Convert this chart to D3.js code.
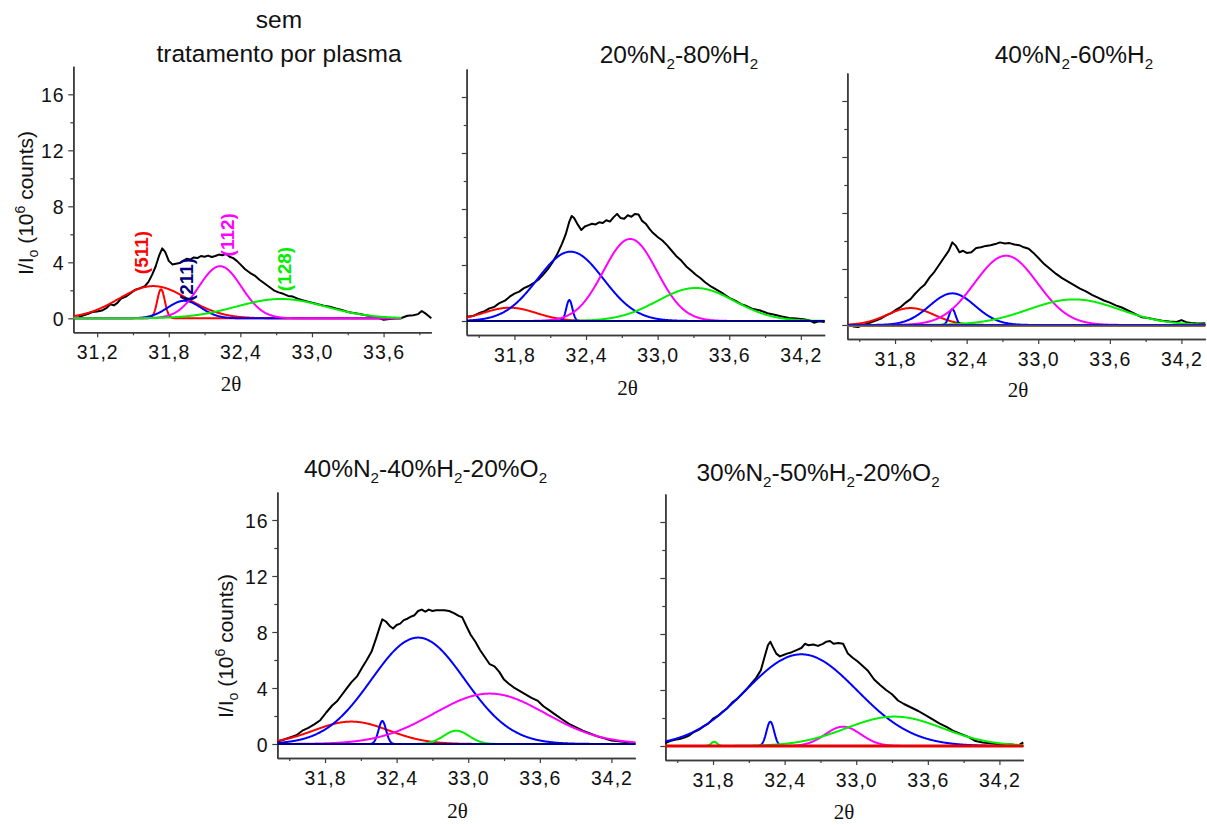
<!DOCTYPE html>
<html>
<head>
<meta charset="utf-8">
<script src="https://cdn.jsdelivr.net/npm/d3@7"></script>
<style>
  body { margin: 0; background: #fff; }
  svg { display: block; }
</style>
</head>
<body>
<svg id="chart" width="1207" height="825"></svg>
<script>
// ---------- Panel titles ("_2" marks a subscript digit) ----------
const titles = [
  ["sem", "tratamento por plasma"],
  ["20%N_2-80%H_2"],
  ["40%N_2-60%H_2"],
  ["40%N_2-40%H_2-20%O_2"],
  ["30%N_2-50%H_2-20%O_2"]
];

// ---------- Axis ticks ----------
const yMajorTicks = [0, 4, 8, 12, 16];
const yMinorTicks = [2, 6, 10, 14];
const xMajorTicksA = [31.2, 31.8, 32.4, 33.0, 33.6];
const xMajorTicksB = [31.8, 32.4, 33.0, 33.6, 34.2];
const xMinorTicks = [31.5, 32.1, 32.7, 33.3, 33.9];

// ---------- Measured patterns: 2θ (deg) and I/Io (10^6 counts) ----------
const theta1 = [31.00,31.04,31.08,31.12,31.16,31.20,31.24,31.28,31.31,31.34,31.37,31.40,31.44,31.48,31.52,31.56,31.60,31.63,31.66,31.69,31.72,31.745,31.77,31.80,31.83,31.86,31.89,31.92,31.95,31.98,32.01,32.04,32.07,32.10,32.13,32.16,32.19,32.22,32.25,32.28,32.31,32.34,32.37,32.40,32.44,32.48,32.52,32.56,32.60,32.64,32.68,32.72,32.76,32.80,32.84,32.88,32.92,32.96,33.00,33.05,33.10,33.15,33.20,33.25,33.30,33.35,33.40,33.45,33.50,33.55,33.60,33.65,33.70,33.75,33.80,33.85,33.89,33.92,33.95,33.98,34.00];
const int1 = [0.0,0.05,0.2,0.3,0.45,0.48,0.55,0.75,1.0,0.92,1.1,1.4,1.55,1.8,2.05,2.15,2.3,2.6,3.1,3.7,4.5,5.0,4.75,4.1,3.85,3.9,3.95,4.1,4.25,4.2,4.35,4.3,4.45,4.4,4.48,4.38,4.45,4.55,4.5,4.6,4.4,4.3,4.1,3.85,3.5,3.25,3.05,2.75,2.5,2.25,2.0,1.85,1.75,1.6,1.55,1.4,1.3,1.2,1.12,1.0,0.9,0.82,0.7,0.6,0.45,0.38,0.3,0.22,0.15,0.05,-0.1,-0.05,0.0,0.02,0.18,0.22,0.3,0.52,0.35,0.15,0.0];

const theta2 = [31.40,31.45,31.50,31.55,31.59,31.63,31.67,31.72,31.76,31.80,31.84,31.88,31.92,31.96,32.00,32.04,32.08,32.12,32.16,32.20,32.23,32.26,32.28,32.30,32.33,32.36,32.39,32.42,32.45,32.48,32.51,32.54,32.57,32.60,32.63,32.66,32.69,32.72,32.75,32.78,32.81,32.84,32.87,32.90,32.93,32.96,33.00,33.04,33.08,33.12,33.16,33.20,33.24,33.28,33.32,33.36,33.40,33.45,33.50,33.55,33.60,33.65,33.70,33.75,33.80,33.86,33.92,33.98,34.04,34.10,34.16,34.22,34.27,34.31,34.35,34.40];
const int2 = [0.3,0.35,0.55,0.7,0.9,1.0,1.26,1.45,1.74,1.95,2.1,2.35,2.5,2.7,2.95,3.3,3.7,4.2,4.8,5.55,6.2,7.1,7.5,7.35,6.9,6.5,6.75,6.85,6.95,6.9,7.05,7.0,7.2,7.1,7.4,7.65,7.35,7.3,7.55,7.45,7.65,7.6,7.15,6.95,6.6,6.3,6.0,5.75,5.4,5.0,4.6,4.3,3.9,3.6,3.3,3.05,2.75,2.45,2.2,1.95,1.65,1.45,1.2,1.05,0.85,0.75,0.55,0.45,0.32,0.22,0.18,0.12,0.05,-0.12,-0.02,-0.08];

const theta3 = [31.40,31.45,31.49,31.53,31.57,31.61,31.65,31.69,31.73,31.77,31.81,31.85,31.89,31.93,31.97,32.01,32.05,32.09,32.13,32.17,32.21,32.25,32.28,32.31,32.34,32.37,32.40,32.44,32.48,32.52,32.56,32.60,32.64,32.68,32.72,32.76,32.80,32.84,32.88,32.92,32.96,33.00,33.05,33.10,33.15,33.20,33.25,33.30,33.35,33.40,33.45,33.50,33.55,33.60,33.65,33.70,33.76,33.82,33.87,33.92,33.98,34.04,34.10,34.16,34.20,34.24,34.28,34.32,34.36,34.40];
const int3 = [0.0,-0.1,-0.15,0.0,0.1,0.22,0.35,0.5,0.7,0.85,1.1,1.3,1.6,1.85,2.25,2.6,2.9,3.4,3.8,4.3,4.8,5.3,5.9,5.65,5.2,5.3,5.15,5.2,5.5,5.55,5.65,5.7,5.78,5.9,5.82,5.85,5.75,5.7,5.55,5.45,5.15,4.8,4.35,4.0,3.65,3.35,3.1,2.85,2.6,2.4,2.15,1.95,1.75,1.6,1.4,1.25,1.0,0.75,0.55,0.5,0.4,0.3,0.25,0.22,0.35,0.2,0.15,0.12,0.1,0.12];

const theta4 = [31.40,31.45,31.50,31.56,31.61,31.66,31.71,31.76,31.81,31.86,31.90,31.94,31.98,32.02,32.07,32.11,32.15,32.19,32.23,32.26,32.28,32.31,32.34,32.37,32.40,32.43,32.46,32.49,32.52,32.55,32.58,32.61,32.64,32.67,32.70,32.73,32.76,32.80,32.84,32.88,32.92,32.95,32.98,33.02,33.06,33.10,33.14,33.18,33.22,33.26,33.30,33.34,33.38,33.43,33.48,33.53,33.58,33.63,33.68,33.73,33.78,33.84,33.90,33.96,34.02,34.08,34.14,34.20,34.26,34.32,34.36,34.40];
const int4 = [0.17,0.3,0.45,0.62,0.95,1.15,1.4,1.7,2.25,2.75,3.05,3.5,3.95,4.4,4.85,5.45,6.0,6.6,7.6,8.4,8.9,8.75,8.45,8.25,8.5,8.6,8.85,8.95,9.1,9.2,9.5,9.6,9.45,9.6,9.5,9.55,9.55,9.55,9.5,9.35,9.15,9.05,8.5,7.8,7.3,6.7,6.2,5.7,5.55,5.15,4.6,4.3,4.05,3.8,3.55,3.3,3.1,2.7,2.4,2.1,1.8,1.45,1.2,0.95,0.75,0.55,0.4,0.25,0.2,0.15,0.1,0.05];

const theta5 = [31.40,31.44,31.48,31.52,31.56,31.60,31.64,31.68,31.72,31.76,31.80,31.84,31.88,31.92,31.96,32.00,32.04,32.08,32.12,32.16,32.20,32.23,32.26,32.28,32.30,32.33,32.36,32.39,32.42,32.46,32.50,32.54,32.57,32.60,32.64,32.68,32.72,32.75,32.78,32.81,32.85,32.89,32.93,32.97,33.01,33.05,33.10,33.15,33.20,33.25,33.30,33.35,33.40,33.46,33.52,33.58,33.64,33.70,33.76,33.82,33.88,33.94,34.00,34.06,34.12,34.18,34.24,34.30,34.36,34.40];
const int5 = [0.2,0.35,0.45,0.5,0.6,0.75,1.0,1.15,1.4,1.6,1.95,2.15,2.45,2.7,3.1,3.35,3.7,4.05,4.45,4.85,5.4,6.3,7.2,7.45,7.1,6.6,6.4,6.5,6.6,6.7,6.85,7.0,7.3,7.2,7.25,7.15,7.3,7.45,7.5,7.3,7.35,7.3,6.6,6.3,6.05,5.75,5.35,4.75,4.35,4.0,3.7,3.25,3.0,2.75,2.5,2.2,1.9,1.6,1.35,1.05,0.85,0.65,0.35,0.25,0.2,0.15,0.12,0.1,0.05,0.26];

// ---------- Gaussian fit components: centre (2θ), height, FWHM ----------
const centers1 = [31.67, 31.735, 31.93, 32.23, 32.74];
const heights1 = [2.3, 2.07, 1.25, 3.72, 1.38];
const fwhm1    = [0.68, 0.075, 0.33, 0.42, 0.88];

const centers2 = [31.76, 32.27, 32.26, 32.77, 33.32];
const heights2 = [0.95, 4.95, 1.5, 5.86, 2.36];
const fwhm2    = [0.52, 0.65, 0.06, 0.53, 0.76];

const centers3 = [31.93, 32.28, 32.28, 32.73, 33.30];
const heights3 = [1.21, 2.26, 1.14, 4.95, 1.83];
const fwhm3    = [0.46, 0.45, 0.065, 0.62, 0.9];

const centers4 = [32.02, 32.58, 32.28, 33.18, 32.90];
const heights4 = [1.6, 7.6, 1.64, 3.6, 0.95];
const fwhm4    = [0.74, 0.92, 0.075, 1.1, 0.25];

const centers5 = [32.54, 32.28, 32.89, 33.32, 31.81];
const heights5 = [6.55, 1.74, 1.38, 2.1, 0.3];
const fwhm5    = [1.1, 0.075, 0.35, 0.95, 0.06];

// Reflection labels on the untreated sample
const hklLabels = ["(511)", "(211)", "(112)", "(128)"];
const hklTheta  = [31.57, 31.95, 32.29, 32.77];
const hklCounts = [4.7, 2.77, 5.97, 3.52];

// ---------- Styling & layout ----------
const FONT = "'Liberation Sans', Arial, Helvetica, sans-serif";
const SERIF = "'Liberation Serif', 'Times New Roman', serif";
const RED = "#ff0000", BLUE = "#0000ff", MAG = "#ff00ff", GRN = "#00ee00", NAVY = "#000080";
const AXIS = "#3c3c3c";
const PX_PER_UNIT = 14;      // vertical pixels per 10^6 counts
const PLOT_W = 358;

const panels = [
  { theta: theta1, counts: int1, c: centers1, h: heights1, w: fwhm1,
    colors: [RED, RED, BLUE, MAG, GRN], xDomain: [31.0, 34.0], fit: [31.0, 33.75],
    majors: xMajorTicksA, x0: 73.3, yZero: 318.3, yLabels: true,
    titleX: 279, titleY: [28, 62], xTitle: [231, 391], yTitle: [33, 203], base: null },
  { theta: theta2, counts: int2, c: centers2, h: heights2, w: fwhm2,
    colors: [RED, BLUE, BLUE, MAG, GRN], xDomain: [31.4, 34.4], fit: [31.4, 34.4],
    majors: xMajorTicksB, x0: 466.7, yZero: 321, yLabels: false,
    titleX: 679, titleY: [62.5], xTitle: [627.5, 395], base: [{ color: NAVY, width: 2 }] },
  { theta: theta3, counts: int3, c: centers3, h: heights3, w: fwhm3,
    colors: [RED, BLUE, BLUE, MAG, GRN], xDomain: [31.4, 34.4], fit: [31.4, 34.4],
    majors: xMajorTicksB, x0: 847.3, yZero: 325, yLabels: false,
    titleX: 1074, titleY: [62.5], xTitle: [1018, 397],
    base: [{ color: "#8a6a30", width: 2.6, dy: 0.6 }, { color: "#1818c8", width: 1.6, dy: -0.3 }] },
  { theta: theta4, counts: int4, c: centers4, h: heights4, w: fwhm4,
    colors: [RED, BLUE, BLUE, MAG, GRN], xDomain: [31.4, 34.4], fit: [31.4, 34.4],
    majors: xMajorTicksB, x0: 277.3, yZero: 744, yLabels: true,
    titleX: 425.5, titleY: [477], xTitle: [457.5, 818], yTitle: [233, 646], base: [{ color: NAVY, width: 2 }] },
  { theta: theta5, counts: int5, c: centers5, h: heights5, w: fwhm5,
    colors: [BLUE, BLUE, MAG, GRN, GRN], xDomain: [31.4, 34.4], fit: [31.4, 34.4],
    majors: xMajorTicksB, x0: 665.3, yZero: 746, yLabels: false,
    titleX: 818, titleY: [481], xTitle: [844, 819], base: [{ color: "#e60000", width: 3 }] }
];

const svg = d3.select("#chart");
const commaFmt = d3.formatLocale({ decimal: ",", thousands: ".", grouping: [3], currency: ["", ""] }).format(".1f");

// Gaussian profile of one fitted component
function gauss(x, c, h, w) {
  return h * Math.exp(-4 * Math.LN2 * (x - c) * (x - c) / (w * w));
}

// Title text with subscript digits
function addRichText(sel, str, size) {
  const parts = str.split(/_(\d)/);
  parts.forEach((p, i) => {
    if (p === "") return;
    if (i % 2 === 1) {
      sel.append("tspan").attr("font-size", size * 0.62).attr("dy", size * 0.26).text(p);
    } else {
      const t = sel.append("tspan").text(p);
      if (i > 0) t.attr("dy", -size * 0.26);
    }
  });
}

panels.forEach((p, pi) => {
  const x = d3.scaleLinear().domain(p.xDomain).range([p.x0, p.x0 + PLOT_W]);
  const y = d3.scaleLinear().domain([-1, 18])
    .range([p.yZero + PX_PER_UNIT, p.yZero - 18 * PX_PER_UNIT]);
  const g = svg.append("g");
  const bottom = y(-1);

  // ----- axes -----
  const xAxis = d3.axisBottom(x).tickValues(p.majors).tickFormat(commaFmt)
    .tickSize(5).tickSizeOuter(0);
  const xMinor = d3.axisBottom(x).tickValues(xMinorTicks).tickFormat("")
    .tickSize(3).tickSizeOuter(0);
  const yAxis = d3.axisLeft(y).tickValues(yMajorTicks)
    .tickFormat(p.yLabels ? d3.format("d") : "").tickSize(5).tickSizeOuter(0).tickPadding(4);
  const yMinor = d3.axisLeft(y).tickValues(yMinorTicks).tickFormat("")
    .tickSize(3).tickSizeOuter(0);

  const gx = g.append("g").attr("transform", `translate(0,${bottom})`).call(xAxis);
  g.append("g").attr("transform", `translate(0,${bottom})`).call(xMinor);
  const gy = g.append("g").attr("transform", `translate(${p.x0},0)`).call(yAxis);
  g.append("g").attr("transform", `translate(${p.x0},0)`).call(yMinor);

  g.selectAll(".domain").attr("stroke", AXIS).attr("stroke-width", 1.6);
  g.selectAll(".tick line").attr("stroke", AXIS).attr("stroke-width", 1.2);
  gx.selectAll("text").attr("font-family", FONT).attr("font-size", 19.5)
    .attr("letter-spacing", 1).attr("fill", "#111").attr("y", 26.5).attr("dy", 0);
  gy.selectAll("text").attr("font-family", FONT).attr("font-size", 19.5)
    .attr("letter-spacing", 0.8).attr("fill", "#111").attr("dy", "0.36em");

  // ----- measured pattern -----
  const line = d3.line().x(d => x(d[0])).y(d => y(d[1]));
  g.append("path")
    .datum(p.theta.map((t, i) => [t, p.counts[i]]))
    .attr("d", line).attr("fill", "none").attr("stroke", "#000")
    .attr("stroke-width", 2).attr("stroke-linejoin", "round");

  // ----- fitted components -----
  const grid = d3.range(p.fit[0], p.fit[1] + 1e-9, 0.004);
  p.c.forEach((c, k) => {
    const pts = grid.map(t => [t, gauss(t, c, p.h[k], p.w[k])]);
    g.append("path").datum(pts).attr("d", line)
      .attr("fill", "none").attr("stroke", p.colors[k])
      .attr("stroke-width", 2).attr("stroke-linejoin", "round");
  });

  // ----- zero baseline of the fit -----
  if (p.base) {
    p.base.forEach(b => {
      g.append("line")
        .attr("x1", x(p.xDomain[0])).attr("x2", x(p.xDomain[1]))
        .attr("y1", y(0) + (b.dy || 0)).attr("y2", y(0) + (b.dy || 0))
        .attr("stroke", b.color).attr("stroke-width", b.width);
    });
  }

  // ----- titles -----
  p.titleY.forEach((ty, li) => {
    const t = g.append("text").attr("x", p.titleX).attr("y", ty)
      .attr("text-anchor", "middle").attr("font-family", FONT)
      .attr("font-size", 24.5).attr("fill", "#111");
    addRichText(t, titles[pi][li], 24.5);
  });

  // x-axis title
  g.append("text").attr("x", p.xTitle[0]).attr("y", p.xTitle[1])
    .attr("text-anchor", "middle").attr("font-family", SERIF)
    .attr("font-size", 21).attr("fill", "#111").text("2θ");

  // y-axis title
  if (p.yTitle) {
    const yt = g.append("text")
      .attr("transform", `translate(${p.yTitle[0]},${p.yTitle[1]}) rotate(-90)`)
      .attr("text-anchor", "middle").attr("font-family", FONT)
      .attr("font-size", 21).attr("fill", "#111");
    yt.append("tspan").text("I/I");
    yt.append("tspan").attr("font-size", 14).attr("dy", 5).text("o");
    yt.append("tspan").attr("dy", -5).text(" (10");
    yt.append("tspan").attr("font-size", 14).attr("dy", -8).text("6");
    yt.append("tspan").attr("dy", 8).text(" counts)");
  }

  // reflection labels
  if (pi === 0) {
    const labelColors = [RED, NAVY, MAG, GRN];
    hklLabels.forEach((lab, k) => {
      g.append("text")
        .attr("transform", `translate(${x(hklTheta[k])},${y(hklCounts[k])}) rotate(-90)`)
        .attr("text-anchor", "middle").attr("dominant-baseline", "central")
        .attr("font-family", FONT).attr("font-weight", "bold")
        .attr("font-size", 19).attr("fill", labelColors[k]).text(lab);
    });
  }
});
</script>
</body>
</html>
